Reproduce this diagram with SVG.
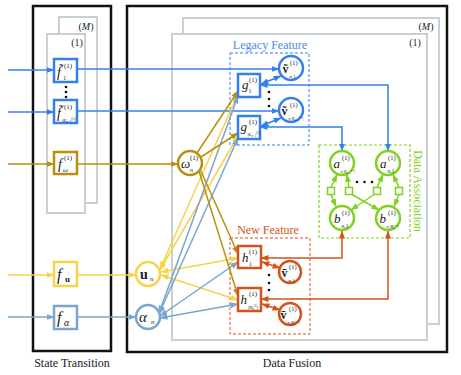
<svg xmlns="http://www.w3.org/2000/svg" width="461" height="375" viewBox="0 0 461 375">
<style>
.m{font-family:"Liberation Serif",serif;font-style:italic;fill:#222}
.b{font-family:"Liberation Serif",serif;font-weight:bold;fill:#222}
.r{font-family:"Liberation Serif",serif;fill:#222}
.panel{fill:none;stroke:#111;stroke-width:2.5}
.plate{fill:#fff;stroke:#c8d1d1;stroke-width:2}
.ln{fill:none;stroke-width:1.5}
.cb{stroke:#3580ec}.cg{stroke:#b8900a}.cy{stroke:#f8d247}.cs{stroke:#7aa5cf}.cgr{stroke:#7ed321}.co{stroke:#d4531c}
.box{fill:#fff;stroke-width:2.5}
.dot{fill:#111}
</style>
<defs>
<marker id="ab" markerUnits="userSpaceOnUse" markerWidth="8" markerHeight="6" refX="7.5" refY="3" orient="auto-start-reverse"><path d="M0,0 L8,3 L0,6 z" fill="#3580ec"/></marker>
<marker id="ag" markerUnits="userSpaceOnUse" markerWidth="8" markerHeight="6" refX="7.5" refY="3" orient="auto-start-reverse"><path d="M0,0 L8,3 L0,6 z" fill="#b8900a"/></marker>
<marker id="ay" markerUnits="userSpaceOnUse" markerWidth="8" markerHeight="6" refX="7.5" refY="3" orient="auto-start-reverse"><path d="M0,0 L8,3 L0,6 z" fill="#f8d247"/></marker>
<marker id="as" markerUnits="userSpaceOnUse" markerWidth="8" markerHeight="6" refX="7.5" refY="3" orient="auto-start-reverse"><path d="M0,0 L8,3 L0,6 z" fill="#7aa5cf"/></marker>
<marker id="agr" markerUnits="userSpaceOnUse" markerWidth="8" markerHeight="6" refX="7.5" refY="3" orient="auto-start-reverse"><path d="M0,0 L8,3 L0,6 z" fill="#7ed321"/></marker>
<marker id="ao" markerUnits="userSpaceOnUse" markerWidth="8" markerHeight="6" refX="7.5" refY="3" orient="auto-start-reverse"><path d="M0,0 L8,3 L0,6 z" fill="#d4531c"/></marker>
</defs>
<rect width="461" height="375" fill="#fff"/>

<g id="panels">
<rect class="panel" x="33" y="6" width="78" height="345"/>
<rect class="panel" x="127" y="6" width="320" height="346"/>
<text class="r" x="72" y="367" font-size="12" text-anchor="middle">State Transition</text>
<text class="r" x="292" y="367" font-size="12" text-anchor="middle">Data Fusion</text>
</g>

<g id="plates">
<rect class="plate" x="59" y="17" width="38" height="186"/>
<rect class="plate" x="47" y="34" width="38" height="179"/>
<text class="r" x="86" y="30" font-size="10" text-anchor="middle">(<tspan font-style="italic">M</tspan>)</text>
<text class="r" x="77" y="46" font-size="10" text-anchor="middle">(1)</text>
<rect class="plate" x="183" y="18" width="256" height="306"/>
<rect class="plate" x="172" y="34" width="255" height="306"/>
<text class="r" x="426" y="30" font-size="10" text-anchor="middle">(<tspan font-style="italic">M</tspan>)</text>
<text class="r" x="415" y="46" font-size="10" text-anchor="middle">(1)</text>
</g>

<g id="groups">
<rect x="230" y="53" width="79" height="92" fill="none" stroke="#3580ec" stroke-width="1" stroke-dasharray="3,2"/>
<text class="r" x="270" y="49" font-size="12" text-anchor="middle" style="fill:#4a8af0">Legacy Feature</text>
<rect x="319" y="145" width="91" height="93" fill="none" stroke="#7ed321" stroke-width="1.2" stroke-dasharray="3,2"/>
<text class="r" transform="translate(414,191) rotate(90)" font-size="12" text-anchor="middle" style="fill:#7ed321">Data Association</text>
<rect x="230" y="238" width="80" height="96" fill="none" stroke="#d4531c" stroke-width="1" stroke-dasharray="3,2"/>
<text class="r" x="268" y="234" font-size="12" text-anchor="middle" style="fill:#d4531c">New Feature</text>
</g>

<g id="connectors">
<line class="ln cb" x1="8" y1="70" x2="54" y2="70" marker-end="url(#ab)"/>
<line class="ln cb" x1="8" y1="112" x2="54" y2="112" marker-end="url(#ab)"/>
<line class="ln cg" x1="8" y1="164" x2="54" y2="164" marker-end="url(#ag)"/>
<line class="ln cy" x1="8" y1="275" x2="54" y2="275" marker-end="url(#ay)"/>
<line class="ln cs" x1="8" y1="317" x2="54" y2="317" marker-end="url(#as)"/>
<line class="ln cb" x1="77" y1="69" x2="279" y2="69" marker-end="url(#ab)"/>
<line class="ln cb" x1="77" y1="111" x2="279" y2="111" marker-end="url(#ab)"/>
<line class="ln cg" x1="77" y1="164" x2="178" y2="164" marker-end="url(#ag)"/>
<line class="ln cy" x1="77" y1="275" x2="136" y2="275" marker-end="url(#ay)"/>
<line class="ln cs" x1="77" y1="317" x2="136" y2="317" marker-end="url(#as)"/>

<line class="ln cy" x1="160" y1="269" x2="238" y2="94" marker-start="url(#ay)" marker-end="url(#ay)"/>
<line class="ln cy" x1="160" y1="270" x2="238" y2="136" marker-start="url(#ay)" marker-end="url(#ay)"/>
<line class="ln cy" x1="161" y1="272" x2="238" y2="258" marker-start="url(#ay)" marker-end="url(#ay)"/>
<line class="ln cy" x1="161" y1="275" x2="238" y2="300" marker-start="url(#ay)" marker-end="url(#ay)"/>
<line class="ln cs" x1="159" y1="313" x2="238" y2="96" marker-start="url(#as)" marker-end="url(#as)"/>
<line class="ln cs" x1="159" y1="314" x2="238" y2="138" marker-start="url(#as)" marker-end="url(#as)"/>
<line class="ln cs" x1="160" y1="316" x2="238" y2="262" marker-start="url(#as)" marker-end="url(#as)"/>
<line class="ln cs" x1="160" y1="318" x2="238" y2="304" marker-start="url(#as)" marker-end="url(#as)"/>
<line class="ln cg" x1="197" y1="153" x2="238" y2="91" marker-end="url(#ag)"/>
<line class="ln cg" x1="201" y1="157" x2="238" y2="133" marker-end="url(#ag)"/>
<line class="ln cg" x1="200" y1="169" x2="238" y2="254" marker-end="url(#ag)"/>
<line class="ln cg" x1="199" y1="171" x2="238" y2="296" marker-end="url(#ag)"/>

<line class="ln cb" x1="261" y1="84" x2="281" y2="76" marker-start="url(#ab)" marker-end="url(#ab)"/>
<line class="ln cb" x1="261" y1="126" x2="281" y2="118" marker-start="url(#ab)" marker-end="url(#ab)"/>
<polyline class="ln cb" points="260,85 388,85 388,151" marker-start="url(#ab)" marker-end="url(#ab)"/>
<polyline class="ln cb" points="260,127 342,127 342,151" marker-start="url(#ab)" marker-end="url(#ab)"/>

<line class="ln cgr" x1="331" y1="187.5" x2="337" y2="174.5" marker-end="url(#agr)"/>
<line class="ln cgr" x1="349" y1="187.5" x2="347" y2="174.5" marker-end="url(#agr)"/>
<line class="ln cgr" x1="377" y1="187.5" x2="383" y2="174.5" marker-end="url(#agr)"/>
<line class="ln cgr" x1="399" y1="187.5" x2="393" y2="174.5" marker-end="url(#agr)"/>
<line class="ln cgr" x1="331" y1="194.5" x2="336" y2="206.5" marker-end="url(#agr)"/>
<line class="ln cgr" x1="352" y1="194.5" x2="379" y2="210" marker-end="url(#agr)"/>
<line class="ln cgr" x1="374" y1="194.5" x2="351" y2="210" marker-end="url(#agr)"/>
<line class="ln cgr" x1="399" y1="194.5" x2="394" y2="206.5" marker-end="url(#agr)"/>

<polyline class="ln co" points="261,258 342,258 342,231" marker-start="url(#ao)" marker-end="url(#ao)"/>
<polyline class="ln co" points="261,299 388,299 388,231" marker-start="url(#ao)" marker-end="url(#ao)"/>
<line class="ln co" x1="262" y1="262" x2="280" y2="268" marker-start="url(#ao)" marker-end="url(#ao)"/>
<line class="ln co" x1="262" y1="304" x2="280" y2="310" marker-start="url(#ao)" marker-end="url(#ao)"/>
</g>

<g id="f1">
<rect class="box cb" x="54" y="59" width="23" height="23"/>
<text class="m" x="57" y="77" font-size="14">f̃</text>
<text class="r" x="64" y="68" font-size="7">(1)</text>
<text class="r" x="63" y="80" font-size="6">1</text>
</g>
<g id="fdots"><circle class="dot" cx="66" cy="87" r="1.3"/><circle class="dot" cx="66" cy="92" r="1.3"/><circle class="dot" cx="66" cy="97" r="1.3"/></g>
<g id="fK">
<rect class="box cb" x="54" y="100" width="23" height="23"/>
<text class="m" x="57" y="118" font-size="14">f̃</text>
<text class="r" x="64" y="109" font-size="7">(1)</text>
<text class="r" x="62" y="121.5" font-size="4.5">|<tspan font-style="italic">K</tspan><tspan dy="1.5" font-size="3.2" font-style="italic">n−1</tspan><tspan dy="-3" font-size="3.2">(1)</tspan><tspan dy="1.5">|</tspan></text>
</g>
<g id="fomega">
<rect class="box cg" x="54" y="152" width="23" height="22"/>
<text class="m" x="58" y="169" font-size="14">f</text>
<text class="r" x="64" y="160" font-size="7">(1)</text>
<text class="m" x="63" y="172" font-size="7">ω</text>
</g>
<g id="fu">
<rect class="box cy" x="54" y="262" width="23" height="24"/>
<text class="m" x="57" y="280" font-size="16">f</text>
<text class="b" x="65" y="282" font-size="9">u</text>
</g>
<g id="falpha">
<rect class="box cs" x="54" y="306" width="23" height="23"/>
<text class="m" x="57" y="323" font-size="16">f</text>
<text class="m" x="64" y="326" font-size="10">α</text>
</g>

<g id="omega">
<circle cx="190" cy="163" r="12" fill="#fff" stroke="#b8900a" stroke-width="2.5"/>
<text class="m" x="181" y="168" font-size="13">ω</text>
<text class="r" x="190" y="160" font-size="7">(1)</text>
<text class="m" x="190" y="172" font-size="6">n</text>
</g>
<g id="un">
<circle cx="148" cy="274" r="12" fill="#fff" stroke="#f8d247" stroke-width="2.5"/>
<text class="b" x="140" y="279" font-size="14">u</text>
<text class="m" x="150" y="281" font-size="7">n</text>
</g>
<g id="alphan">
<circle cx="148" cy="317" r="12" fill="#fff" stroke="#7aa5cf" stroke-width="2.5"/>
<text class="m" x="139" y="322" font-size="15">α</text>
<text class="m" x="151" y="324" font-size="7">n</text>
</g>

<g id="g1">
<rect class="box cb" x="238" y="74" width="22" height="23"/>
<text class="m" x="242" y="89" font-size="13">g</text>
<text class="r" x="249" y="82" font-size="7">(1)</text>
<text class="r" x="248.5" y="93" font-size="6">1</text>
</g>
<g id="gK">
<rect class="box cb" x="238" y="116" width="22" height="23"/>
<text class="m" x="240.5" y="131" font-size="13">g</text>
<text class="r" x="249" y="124" font-size="7">(1)</text>
<text class="r" x="247.5" y="135.5" font-size="4.2">|<tspan font-style="italic">K</tspan><tspan dy="1.4" font-size="3" font-style="italic">n−1</tspan><tspan dy="-2.8" font-size="3">(1)</tspan><tspan dy="1.4">|</tspan></text>
</g>
<g id="v1">
<circle cx="291" cy="68" r="12" fill="#fff" stroke="#3580ec" stroke-width="2.5"/>
<text class="b" x="282.5" y="73" font-size="12">ṽ</text>
<text class="r" x="290" y="65" font-size="6.5">(1)</text>
<text class="m" x="289.5" y="77.5" font-size="5">n,<tspan font-style="normal">1</tspan></text>
</g>
<g id="vdots"><circle class="dot" cx="269" cy="92" r="1.3"/><circle class="dot" cx="269" cy="99" r="1.3"/><circle class="dot" cx="269" cy="106" r="1.3"/></g>
<g id="vK">
<circle cx="291" cy="110" r="12" fill="#fff" stroke="#3580ec" stroke-width="2.5"/>
<text class="b" x="281.5" y="115" font-size="12">ṽ</text>
<text class="r" x="290" y="107" font-size="6.5">(1)</text>
<text class="m" x="288.5" y="119.5" font-size="3.6">n,|K<tspan dy="1.2" font-size="2.8">n−1</tspan><tspan dy="-2.4" font-size="2.8" font-style="normal">(1)</tspan><tspan dy="1.2" font-style="normal">|</tspan></text>
</g>

<g id="aK">
<circle cx="342" cy="163" r="12" fill="#fff" stroke="#7ed321" stroke-width="2.5"/>
<text class="m" x="333.5" y="168" font-size="13">a</text>
<text class="r" x="342" y="160" font-size="6.5">(1)</text>
<text class="m" x="340.5" y="172.5" font-size="3.6">n,|K<tspan dy="1.2" font-size="2.8">n−1</tspan><tspan dy="-2.4" font-size="2.8" font-style="normal">(1)</tspan><tspan dy="1.2" font-style="normal">|</tspan></text>
</g>
<g id="a1">
<circle cx="388" cy="163" r="12" fill="#fff" stroke="#7ed321" stroke-width="2.5"/>
<text class="m" x="380" y="168" font-size="13">a</text>
<text class="r" x="388" y="160" font-size="6.5">(1)</text>
<text class="m" x="387.5" y="172.5" font-size="5.5">n,<tspan font-style="normal">1</tspan></text>
</g>
<g id="adots"><circle class="dot" cx="357" cy="182" r="1.3"/><circle class="dot" cx="364.5" cy="182" r="1.3"/><circle class="dot" cx="372" cy="182" r="1.3"/></g>
<g id="factors" fill="#fff" stroke="#7ed321" stroke-width="1.5">
<rect x="327.5" y="187.5" width="7" height="7"/>
<rect x="345.5" y="187.5" width="7" height="7"/>
<rect x="373.5" y="187.5" width="7" height="7"/>
<rect x="395.5" y="187.5" width="7" height="7"/>
</g>
<g id="b1">
<circle cx="342" cy="218" r="12" fill="#fff" stroke="#7ed321" stroke-width="2.5"/>
<text class="m" x="334" y="223" font-size="13">b</text>
<text class="r" x="342" y="215" font-size="6.5">(1)</text>
<text class="m" x="341.5" y="227.5" font-size="5.5">n,<tspan font-style="normal">1</tspan></text>
</g>
<g id="bM">
<circle cx="388" cy="218" r="12" fill="#fff" stroke="#7ed321" stroke-width="2.5"/>
<text class="m" x="379.5" y="223" font-size="13">b</text>
<text class="r" x="388" y="215" font-size="6.5">(1)</text>
<text class="m" x="386.5" y="227.5" font-size="3.6">n,|M<tspan dy="1.2" font-size="2.8">n</tspan><tspan dy="-2.4" font-size="2.8" font-style="normal">(1)</tspan><tspan dy="1.2" font-style="normal">|</tspan></text>
</g>

<g id="h1">
<rect class="box co" x="238" y="246" width="23" height="22"/>
<text class="m" x="242" y="262" font-size="13">h</text>
<text class="r" x="249" y="254" font-size="7">(1)</text>
<text class="r" x="249" y="265.5" font-size="6">1</text>
</g>
<g id="hM">
<rect class="box co" x="238" y="288" width="23" height="23"/>
<text class="m" x="240.5" y="304" font-size="13">h</text>
<text class="r" x="249" y="296" font-size="7">(1)</text>
<text class="r" x="248" y="308.5" font-size="4.2">|<tspan font-style="italic">M</tspan><tspan dy="1.4" font-size="3" font-style="italic">n</tspan><tspan dy="-2.8" font-size="3">(1)</tspan><tspan dy="1.4">|</tspan></text>
</g>
<g id="nv1">
<circle cx="290" cy="272" r="11" fill="#fff" stroke="#d4531c" stroke-width="2.5"/>
<text class="b" x="281.5" y="277" font-size="12">v̄</text>
<text class="r" x="289" y="269" font-size="6.5">(1)</text>
<text class="m" x="288.5" y="281.5" font-size="5">n,<tspan font-style="normal">1</tspan></text>
</g>
<g id="hdots"><circle class="dot" cx="269" cy="275" r="1.3"/><circle class="dot" cx="269" cy="283" r="1.3"/><circle class="dot" cx="269" cy="290" r="1.3"/></g>
<g id="nvM">
<circle cx="290" cy="314" r="11" fill="#fff" stroke="#d4531c" stroke-width="2.5"/>
<text class="b" x="280.5" y="319" font-size="12">v̄</text>
<text class="r" x="289" y="311" font-size="6.5">(1)</text>
<text class="m" x="287.5" y="323.5" font-size="3.6">n,|M<tspan dy="1.2" font-size="2.8">n</tspan><tspan dy="-2.4" font-size="2.8" font-style="normal">(1)</tspan><tspan dy="1.2" font-style="normal">|</tspan></text>
</g>
</svg>
